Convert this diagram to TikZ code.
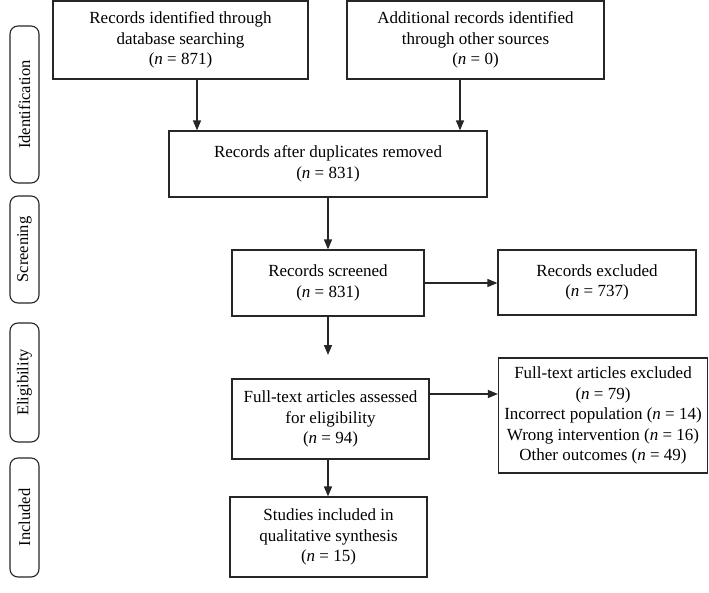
\documentclass[tikz,border=0pt]{standalone}
\usepackage{fontspec}
\setmainfont{Liberation Serif}
\usetikzlibrary{arrows.meta,calc}
\begin{document}
\begin{tikzpicture}[x=1pt,y=-1pt,
  box/.style={draw=black!85,line width=1.2pt,align=center,inner sep=0pt,
    font=\fontsize{17}{20.5}\selectfont},
  phase/.style={draw=black!85,line width=1.1pt,rounded corners=8pt,inner sep=0pt},
  plabel/.style={rotate=90,font=\fontsize{16.5}{20}\selectfont},
  arr/.style={draw=black!85,line width=1.3pt,-{Triangle[length=10pt,width=8pt]}}]
\useasboundingbox (0,0) rectangle (709,593);
\fill[white] (0,0) rectangle (709,593);
% phase labels
\node[phase,minimum width=29pt,minimum height=157pt] (pid) at (24.5,104.5) {};
\node[plabel] (tid) at (pid.center) {Identification};
\node[phase,minimum width=29pt,minimum height=107pt] (psc) at (24.5,249.5) {};
\node[plabel] (tsc) at (psc.center) {Screening};
\node[phase,minimum width=29pt,minimum height=119pt] (pel) at (24.5,382.5) {};
\node[plabel] (tel) at (pel.center) {Eligibility};
\node[phase,minimum width=29pt,minimum height=119pt] (pin) at (24.5,517.5) {};
\node[plabel] (tin) at (pin.center) {Included};
% boxes
\node[box,minimum width=255pt,minimum height=78pt] (b1) at (180.5,40)
  {Records identified through\\database searching\\(\textit{n} = 871)};
\node[box,minimum width=257pt,minimum height=78pt] (b2) at (475.5,40)
  {Additional records identified\\through other sources\\(\textit{n} = 0)};
\node[box,minimum width=318pt,minimum height=66pt] (b3) at (328,164)
  {Records after duplicates removed\\(\textit{n} = 831)};
\node[box,minimum width=192pt,minimum height=66pt] (b4) at (328,283)
  {Records screened\\(\textit{n} = 831)};
\node[box,minimum width=198pt,minimum height=65pt] (b5) at (597,282.5)
  {Records excluded\\(\textit{n} = 737)};
\node[box,minimum width=197pt,minimum height=80pt] (b6) at (330.5,419)
  {Full-text articles assessed\\for eligibility\\(\textit{n} = 94)};
\node[box,minimum width=209pt,minimum height=115pt] (b7) at (603,415.5)
  {Full-text articles excluded\\(\textit{n} = 79)\\Incorrect population (\textit{n} = 14)\\Wrong intervention (\textit{n} = 16)\\Other outcomes (\textit{n} = 49)};
\node[box,minimum width=197pt,minimum height=80pt] (b8) at (328.5,537)
  {Studies included in\\qualitative synthesis\\(\textit{n} = 15)};
% connectors
\draw[arr] (197,0 |- b1.south) -- (197,0 |- b3.north);
\draw[arr] (460,0 |- b2.south) -- (460,0 |- b3.north);
\draw[arr] (b3.south) -- (b4.north);
\coordinate (gap) at (328,355);
\draw[arr] (b4.south) -- (gap);
\draw[arr] (b4.east) -- (b4.east -| b5.west);
\draw[arr] (b6.east |- 0,394) -- (b7.west |- 0,394);
\draw[arr] (328,0 |- b6.south) -- (328,0 |- b8.north);
\end{tikzpicture}
\end{document}
